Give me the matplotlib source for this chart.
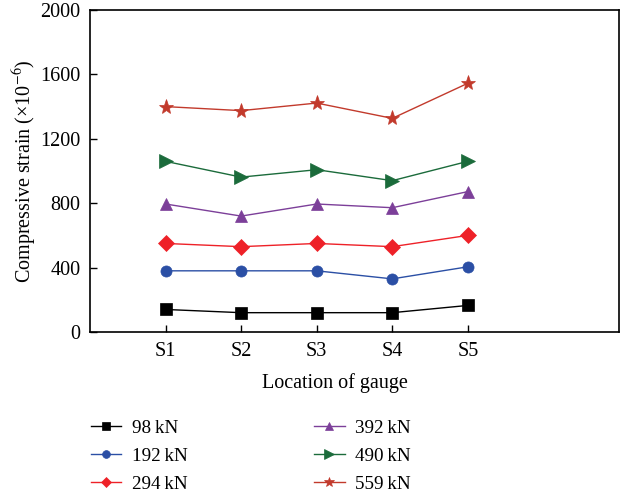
import numpy as np
import matplotlib
matplotlib.use("Agg")
import matplotlib.pyplot as plt

plt.rcParams["font.family"] = ["Liberation Serif", "DejaVu Serif"]
plt.rcParams["mathtext.fontset"] = "stix"

# данные
gauges = ["S1", "S2", "S3", "S4", "S5"]
loads = ["98\u2009kN", "192\u2009kN", "294\u2009kN", "392\u2009kN", "490\u2009kN", "559\u2009kN"]
strain_98 = [140, 120, 120, 120, 165]
strain_192 = [380, 380, 380, 330, 405]
strain_294 = [550, 530, 550, 530, 600]
strain_392 = [795, 720, 795, 772, 872]
strain_490 = [1060, 962, 1008, 940, 1060]
strain_559 = [1400, 1375, 1422, 1327, 1545]

series = [strain_98, strain_192, strain_294, strain_392, strain_490, strain_559]
colors = ["#000000", "#2b4fa5", "#ee2128", "#7c3f99", "#1b6b3b", "#c23a2c"]
markers = ["s", "o", "D", "^", ">", "*"]
msizes = [8, 8, 8, 8, 10, 11]

fig = plt.figure(figsize=(6.23, 4.94), dpi=100)
ax = fig.add_axes([90 / 623, 1 - 332 / 494, 529 / 623, 322 / 494])

x = np.arange(1, len(gauges) + 1)
for vals, lab, c, m, ms in zip(series, loads, colors, markers, msizes):
    ax.plot(x, vals, color=c, marker=m, markersize=ms, linewidth=1.0,
            label=lab, markeredgewidth=0.5)

ax.set_xlim(0, 7)
ax.set_ylim(0, 2000)
ax.set_xticks(x)
ax.set_xticklabels(gauges)
ax.set_yticks(np.arange(0, 2001, 400))
ax.tick_params(direction="in", length=5, width=1, labelsize=14.5, pad=7)
for sp in ax.spines.values():
    sp.set_linewidth(1.2)

ax.set_xlabel("Location of gauge", fontsize=14.5)
ax.xaxis.set_label_coords(0.463, -0.128)
ax.set_ylabel("Compressive strain (×10$^{-6}$)", fontsize=14.5)
ax.yaxis.set_label_coords(-0.097, 0.5)

fig.legend(loc="upper left", bbox_to_anchor=(81 / 623, 1 - 410 / 494),
           ncol=2, frameon=False, fontsize=13.8, borderpad=0,
           handlelength=1.6, handletextpad=0.55, columnspacing=6.6,
           labelspacing=0.55, markerscale=0.7)

fig.savefig("out.png", dpi=100)
